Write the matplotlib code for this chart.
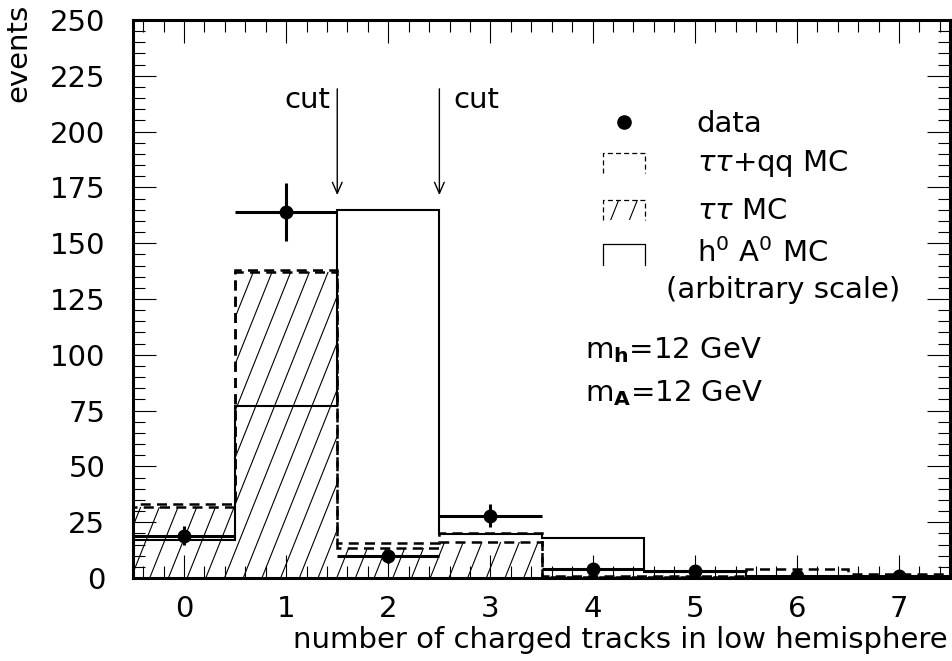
import numpy as np
import matplotlib
matplotlib.use("Agg")
import matplotlib.pyplot as plt
from matplotlib.collections import LineCollection
from matplotlib.patches import Polygon, Rectangle

plt.rcParams['font.family'] = ['DejaVu Sans']
plt.rcParams['mathtext.fontset'] = 'dejavusans'

# number of charged tracks, bin edges
ntracks = np.arange(8)
edges = np.arange(-0.5, 8.0, 1.0)

# data with sqrt(N) errors
data = np.array([19, 164, 10, 28, 4, 3, 1, 1])
data_err = np.sqrt(data)

# MC histograms
tautau_qq = np.array([33, 138, 15.5, 20.3, 1.0, 1.0, 3.9, 1.8])   # dashed
tautau = np.array([32, 137, 13.5, 16.3, 0.5, 0.5, 1.0, 1.0])       # hatched
h0A0 = np.array([17, 77, 165, 19.5, 18, 2.8, 0.4, 0.4])           # solid, arbitrary scale

fs = 21
fig = plt.figure(figsize=(9.53, 6.61), dpi=100)
ax = fig.add_axes([133/953, 1-578/661, 817/953, 558/661])

# hatched tau tau area: steep "/" lines clipped to the histogram shape
xs = np.repeat(edges, 2)
ys = np.r_[0, np.repeat(tautau, 2), 0]
tt_poly = Polygon(np.c_[xs, ys], closed=True, facecolor='none', edgecolor='none')
ax.add_patch(tt_poly)

def hatch_lines(clip):
    segs = [[(x0, 0), (x0 + 0.273, 1)] for x0 in np.arange(-0.3, 1.0, 18.7/817)]
    lc = LineCollection(segs, colors='k', linewidths=0.8, transform=ax.transAxes)
    ax.add_collection(lc)
    lc.set_clip_path(clip)

hatch_lines(tt_poly)

ax.stairs(tautau, edges, color='k', lw=1.8, ls=(0, (4, 2.5)))
ax.stairs(tautau_qq, edges, color='k', lw=1.8, ls=(0, (4, 2.5)))
ax.stairs(h0A0, edges, color='k', lw=1.5)

ax.errorbar(ntracks, data, yerr=data_err, xerr=0.5, fmt='o', color='k',
            ms=9, elinewidth=2.2, capsize=0)

# cut arrows
for xc in [1.5, 2.5]:
    ax.annotate('', xy=(xc, 170.3), xytext=(xc, 220.4),
                arrowprops=dict(arrowstyle='->,head_length=0.8,head_width=0.35',
                                color='k', lw=1.0))
ax.text(1.43, 214, 'cut', fontsize=fs, ha='right', va='center')
ax.text(2.635, 214, 'cut', fontsize=fs, ha='left', va='center')

# legend drawn by hand
bx0, bx1 = 4.10, 4.515
ax.plot([4.31], [204.3], 'o', color='k', ms=9.5)
ax.text(5.02, 203.5, 'data', fontsize=fs, ha='left', va='center')

ax.plot([bx0, bx0, bx1, bx1], [181.5, 190.4, 190.4, 181.5], color='k', lw=0.9,
        ls=(0, (4, 2.5)))
ax.text(5.02, 185.5, r'$\tau\tau$+qq MC', fontsize=fs, ha='left', va='center')

box = Rectangle((bx0, 160.4), bx1 - bx0, 9.0, facecolor='none', edgecolor='none')
ax.add_patch(box)
hatch_lines(box)
ax.plot([bx0, bx0, bx1, bx1], [160.4, 169.4, 169.4, 160.4], color='k', lw=0.9,
        ls=(0, (4, 2.5)))
ax.text(5.02, 164.5, r'$\tau\tau$ MC', fontsize=fs, ha='left', va='center')

ax.plot([bx0, bx0, bx1, bx1], [140.2, 149.6, 149.6, 140.2], color='k', lw=0.9)
ax.text(5.02, 145.5, r'h$^\mathrm{0}$ A$^\mathrm{0}$ MC', fontsize=fs, ha='left', va='center')
ax.text(4.72, 129, '(arbitrary scale)', fontsize=fs, ha='left', va='center')

ax.text(3.93, 102, r'm$_\mathbf{h}$=12 GeV', fontsize=fs, ha='left', va='center')
ax.text(3.93, 83, r'm$_\mathbf{A}$=12 GeV', fontsize=fs, ha='left', va='center')

# axes
ax.set_xlim(-0.5, 7.5)
ax.set_ylim(0, 250)
ax.set_xticks(ntracks)
ax.set_xticks(np.arange(-0.4, 7.5, 0.2), minor=True)
ax.set_yticks(np.arange(0, 251, 25))
ax.set_yticks(np.arange(0, 251, 5), minor=True)
ax.tick_params(which='both', direction='in', top=True, right=True, width=0.8,
               labelsize=fs)
ax.tick_params(which='major', length=16.5)
ax.tick_params(which='minor', length=8.8)
ax.tick_params(axis='x', pad=12)
ax.tick_params(axis='y', pad=20)
for sp in ax.spines.values():
    sp.set_linewidth(2.2)

fig.text(948/953, 1-640/661, 'number of charged tracks in low hemisphere',
         fontsize=fs, ha='right', va='center')
fig.text(18/953, 1-4/661, 'events', fontsize=fs, rotation=90, ha='center', va='top')

fig.savefig('out.png', dpi=100)
